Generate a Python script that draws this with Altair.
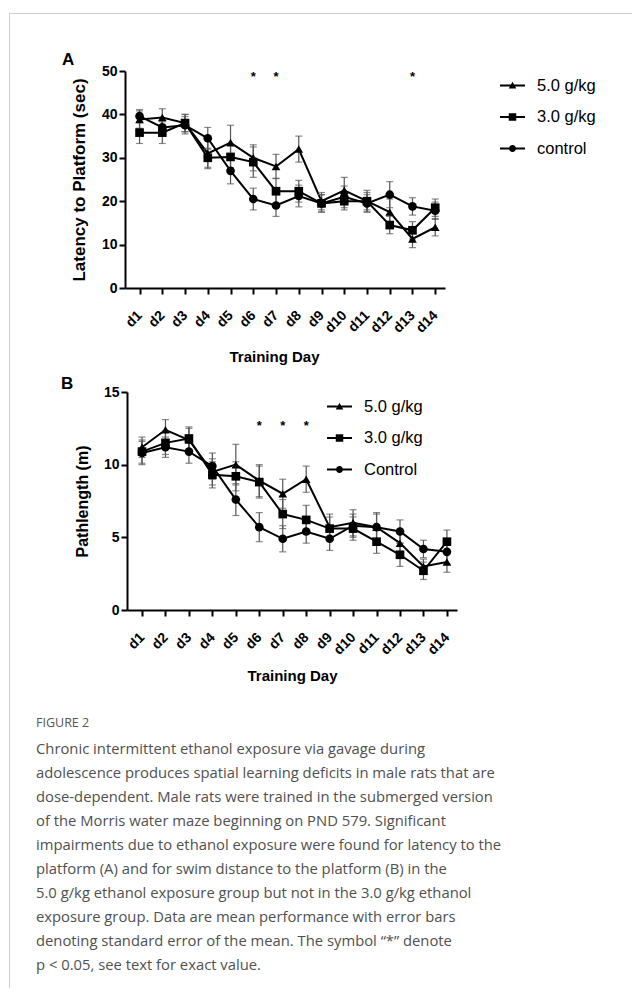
import altair as alt
import pandas as pd

# ---------------- data ----------------
days = ["d1", "d2", "d3", "d4", "d5", "d6", "d7", "d8", "d9", "d10", "d11", "d12", "d13", "d14"]
groups_a = ["5.0 g/kg", "3.0 g/kg", "control"]
groups_b = ["5.0 g/kg", "3.0 g/kg", "Control"]

lat_mean_50 = [38.8, 39.3, 38.0, 31.0, 33.5, 30.0, 28.0, 32.0, 20.0, 22.5, 20.0, 17.5, 11.3, 14.0]
lat_sem_50 = [2.0, 2.0, 2.0, 3.5, 4.0, 3.0, 2.8, 3.0, 2.0, 3.0, 2.5, 3.0, 2.0, 2.0]
lat_mean_30 = [35.8, 35.8, 38.0, 30.0, 30.2, 29.0, 22.3, 22.3, 19.5, 20.0, 20.0, 14.5, 13.3, 18.5]
lat_sem_30 = [2.5, 2.5, 2.0, 2.2, 2.5, 3.5, 3.0, 2.5, 2.0, 2.0, 2.0, 2.0, 2.0, 2.0]
lat_mean_c = [39.6, 37.0, 37.5, 34.5, 27.0, 20.5, 19.0, 21.2, 19.5, 21.0, 19.5, 21.5, 18.8, 17.8]
lat_sem_c = [1.5, 2.0, 2.0, 2.5, 3.0, 2.5, 2.5, 2.5, 2.0, 2.5, 2.0, 3.0, 2.0, 2.0]

pl_mean_50 = [11.2, 12.4, 11.7, 9.5, 10.0, 8.9, 8.0, 9.0, 5.7, 6.0, 5.7, 4.6, 3.0, 3.3]
pl_sem_50 = [0.7, 0.7, 0.8, 0.9, 1.4, 1.1, 1.0, 0.9, 0.9, 0.9, 1.0, 0.8, 0.5, 0.7]
pl_mean_30 = [10.9, 11.5, 11.8, 9.3, 9.2, 8.8, 6.6, 6.2, 5.6, 5.6, 4.7, 3.8, 2.7, 4.7]
pl_sem_30 = [0.8, 0.8, 0.8, 0.9, 1.0, 1.1, 1.0, 1.0, 0.8, 0.8, 0.8, 0.8, 0.6, 0.8]
pl_mean_c = [10.8, 11.2, 10.9, 9.9, 7.6, 5.7, 4.9, 5.4, 4.9, 5.8, 5.7, 5.4, 4.2, 4.0]
pl_sem_c = [0.8, 0.7, 0.8, 0.9, 1.1, 1.0, 0.9, 0.8, 0.8, 0.8, 0.9, 0.8, 0.6, 0.8]

lat_star_days = ["d6", "d7", "d13"]
lat_star_y = 49.3
pl_star_days = ["d6", "d7", "d8"]
pl_star_y = 12.9

lat_ticks = [0, 10, 20, 30, 40, 50]
pl_ticks = [0, 5, 10, 15]

caption_head = "FIGURE 2"
caption_lines = [
    "Chronic intermittent ethanol exposure via gavage during",
    "adolescence produces spatial learning deficits in male rats that are",
    "dose-dependent. Male rats were trained in the submerged version",
    "of the Morris water maze beginning on PND 579. Significant",
    "impairments due to ethanol exposure were found for latency to the",
    "platform (A) and for swim distance to the platform (B) in the",
    "5.0 g/kg ethanol exposure group but not in the 3.0 g/kg ethanol",
    "exposure group. Data are mean performance with error bars",
    "denoting standard error of the mean. The symbol \u201c*\u201d denote",
    "p < 0.05, see text for exact value.",
]


def long_df(groups, means, sems):
    rows = []
    for g, m, s in zip(groups, means, sems):
        for i, d in enumerate(days):
            rows.append({"group": g, "day": d, "idx": i + 1, "mean": m[i],
                         "lo": m[i] - s[i], "hi": m[i] + s[i]})
    return pd.DataFrame(rows)


df_a = long_df(groups_a, [lat_mean_50, lat_mean_30, lat_mean_c], [lat_sem_50, lat_sem_30, lat_sem_c])
df_b = long_df(groups_b, [pl_mean_50, pl_mean_30, pl_mean_c], [pl_sem_50, pl_sem_30, pl_sem_c])
stars_a = pd.DataFrame({"idx": [days.index(d) + 1 for d in lat_star_days], "y": lat_star_y})
stars_b = pd.DataFrame({"idx": [days.index(d) + 1 for d in pl_star_days], "y": pl_star_y})

# ---------------- layout ----------------
OX, OY = 9, 13          # page position of the view origin (card corner)
W, H = 623, 975         # view size (svg stays within 624 x 980)
XDOM = [0.36, 14.43]
LABEL_EXPR = "[" + ",".join("'%s'" % d for d in days) + "][datum.value - 1]"

LEG_LINE = "M-1,-0.08H1V0.08H-1Z"
LEG_PATHS = [
    LEG_LINE + "M-0.3,0.24L0,-0.3L0.3,0.24Z",
    LEG_LINE + "M-0.3,-0.3H0.3V0.3H-0.3Z",
    LEG_LINE + "M-0.28,0A0.28,0.28,0,1,1,0.28,0A0.28,0.28,0,1,1,-0.28,0Z",
]
FONT = "Liberation Sans"


def panel(df, stars, groups, ydom, yticks, ytitle, ytitle_size, xr, yr, leg_xy, xtitle_pad, xtitle_x=None):
    xr_v = [xr[0] - OX, xr[1] - OX]
    yr_v = [yr[0] - OY, yr[1] - OY]
    xscale = alt.Scale(domain=XDOM, range=xr_v, nice=False, zero=False)
    yscale = alt.Scale(domain=ydom, range=yr_v, nice=False, zero=False)
    xkw = {} if xtitle_x is None else {"titleX": xtitle_x - OX}
    xaxis = alt.Axis(orient="bottom", offset=yr_v[0] - H, values=list(range(1, 15)),
                     labelExpr=LABEL_EXPR, labelAngle=315, labelAlign="right",
                     labelBaseline="middle", labelPadding=19, labelOverlap=False,
                     labelFontSize=14, tickSize=6,
                     title="Training Day", titlePadding=xtitle_pad, titleFontSize=15, **xkw)
    yaxis = alt.Axis(orient="left", offset=-xr_v[0], values=yticks, format="d",
                     labelFontSize=14, tickSize=6, labelPadding=2, title=ytitle, titlePadding=13,
                     titleFontSize=ytitle_size)
    X = lambda f: alt.X(f, scale=xscale, axis=xaxis)
    Y = lambda f: alt.Y(f, scale=yscale, axis=yaxis)
    base = alt.Chart(df)
    line = base.mark_line(color="black", strokeWidth=2).encode(
        x=X("idx:Q"), y=Y("mean:Q"), detail="group:N", order="idx:Q",
    )
    err = base.mark_errorbar(ticks=True, size=7, thickness=1.2, color="#555555").encode(
        x=X("idx:Q"), y=Y("lo:Q"), y2="hi:Q",
    )
    pts = base.mark_point(filled=True, color="black", opacity=1, size=75).encode(
        x=X("idx:Q"), y=Y("mean:Q"),
        shape=alt.Shape("group:N", scale=alt.Scale(domain=groups, range=["triangle-up", "square", "circle"]),
                        legend=None),
    )
    leg = base.mark_point(filled=True, color="black", opacity=0).encode(
        x=X("idx:Q"), y=Y("mean:Q"),
        shape=alt.Shape("group:N", scale=alt.Scale(domain=groups, range=LEG_PATHS),
                        sort=groups,
                        legend=alt.Legend(orient="none", legendX=leg_xy[0] - OX, legendY=leg_xy[1] - OY,
                                          title=None, symbolSize=625, rowPadding=10.5, labelOffset=12,
                                          symbolStrokeWidth=0, labelFontSize=16.5)),
    )
    star = alt.Chart(stars).mark_text(text="*", fontSize=13, fontWeight="bold", color="black", dy=3).encode(
        x=X("idx:Q"), y=Y("y:Q"),
    )
    return alt.layer(line, err, pts, leg, star).resolve_scale(shape="independent")


panel_a = panel(df_a, stars_a, groups_a, [0, 50], lat_ticks, "Latency to Platform (sec)", 17,
                (125, 445), (288, 71), (500, 73), 14, xtitle_x=274)
panel_b = panel(df_b, stars_b, groups_b, [0, 15], pl_ticks, "Pathlength (m)", 16,
                (127, 457), (610, 392), (327, 394), 11)

one = pd.DataFrame({"k": [0]})
border_left = alt.Chart(one).mark_rule(color="#cfcfcf", strokeWidth=1).encode(
    x=alt.value(0.5), y=alt.value(0), y2=alt.value(H))
border_top = alt.Chart(one).mark_rule(color="#cfcfcf", strokeWidth=1).encode(
    x=alt.value(0), x2=alt.value(W), y=alt.value(0.5))
letter_a = alt.Chart(one).mark_text(text="A", font=FONT, fontSize=17, fontWeight="bold",
                                    align="left", baseline="alphabetic", color="black").encode(
    x=alt.value(62 - OX), y=alt.value(65 - OY))
letter_b = alt.Chart(one).mark_text(text="B", font=FONT, fontSize=17, fontWeight="bold",
                                    align="left", baseline="alphabetic", color="black").encode(
    x=alt.value(61 - OX), y=alt.value(389 - OY))
head = alt.Chart(one).mark_text(text=caption_head, font="Open Sans", fontSize=12.5,
                                align="left", baseline="alphabetic", color="#555555").encode(
    x=alt.value(36 - OX), y=alt.value(727 - OY))
caption = alt.Chart(one).mark_text(text=caption_lines, font="Open Sans", fontSize=14.8, lineHeight=24,
                                   align="left", baseline="alphabetic", color="#505050").encode(
    x=alt.value(36 - OX), y=alt.value(754 - OY))

chart = alt.layer(border_left, border_top, panel_a, panel_b, letter_a, letter_b, head, caption).resolve_scale(
    x="independent", y="independent", shape="independent"
).properties(
    width=W, height=H,
    autosize=alt.AutoSizeParams(type="none"),
    padding={"left": 1, "top": 5, "right": 0, "bottom": 0},
).configure_view(
    stroke=None
).configure_axis(
    labelFont=FONT, titleFont=FONT, labelColor="black", titleColor="black",
    domainColor="black", tickColor="black", domainWidth=2, tickWidth=2,
    labelFontWeight="bold", titleFontWeight="bold", grid=False,
).configure_legend(
    labelFont=FONT, labelColor="black"
)

chart.save("out.html", embed_options={"renderer": "svg", "actions": False})
